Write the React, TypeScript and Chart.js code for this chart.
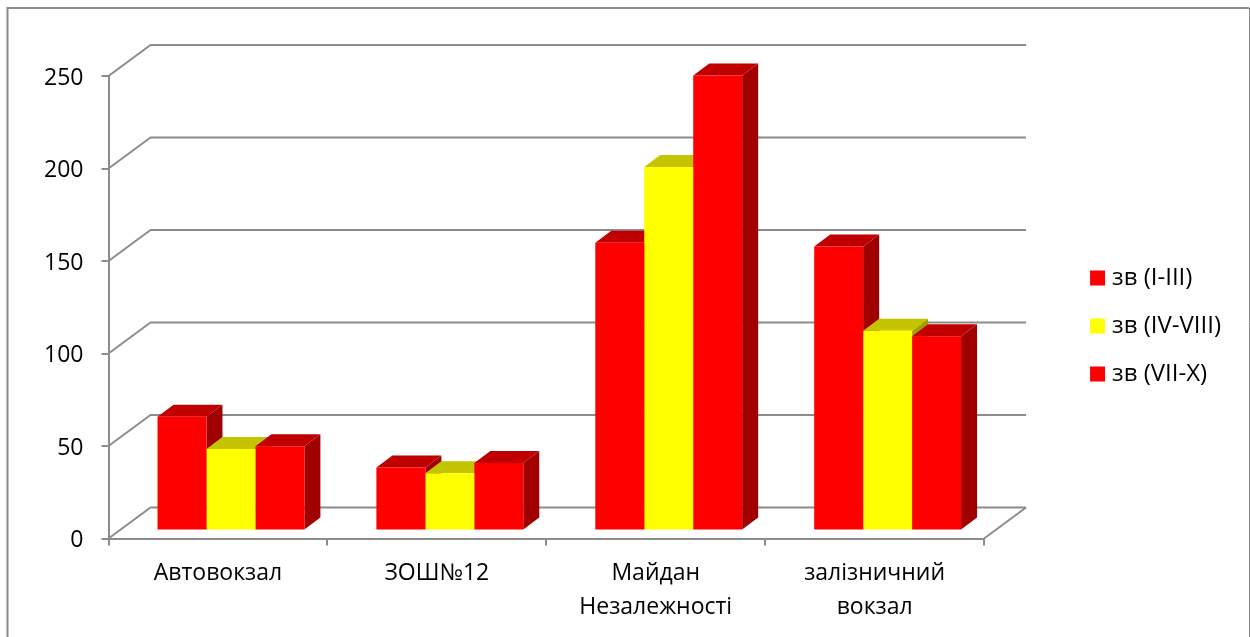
import { useEffect, useRef } from "react";
import { Chart, registerables, type Plugin } from "chart.js";

Chart.register(...registerables);

const categories: (string | string[])[] = [
  "Автовокзал",
  "ЗОШ№12",
  ["Майдан", "Незалежності"],
  ["залізничний", "вокзал"],
];
const seriesNames = ["зв (I-III)", "зв (IV-VIII)", "зв (VII-X)"];
const firstGrades = [61.5, 34, 155.5, 153.5];
const middleGrades = [44, 31, 196.5, 108];
const seniorGrades = [45.5, 36.5, 246, 105];

const frontColors = ["#ff0000", "#ffff00", "#ff0000"];
const topColors = ["#c00000", "#c4c400", "#c00000"];
const sideColors = ["#a00000", "#a0a000", "#a00000"];

const AXIS_COLOR = "#8c8c8c";
const FONT = '"Open Sans", sans-serif';
const FONT_SIZE = 23;

// Depth of the floor and of the bars, as screen offsets.
const WALL = { dx: 42, dy: -31 };
const BAR_FRONT = { dx: 13, dy: -8 };
const BAR_BACK = { dx: 29, dy: -20 };

function polygon(ctx: CanvasRenderingContext2D, pts: number[][], fill: string) {
  ctx.beginPath();
  pts.forEach(([x, y], i) => (i ? ctx.lineTo(x, y) : ctx.moveTo(x, y)));
  ctx.closePath();
  ctx.fillStyle = fill;
  ctx.fill();
}

// Outer frame, walls and floor, plus the top and side faces of each bar.
const perspective: Plugin<"bar"> = {
  id: "perspective",
  beforeDraw(chart) {
    const { ctx, width, height } = chart;
    ctx.save();
    ctx.strokeStyle = "#8a8a8a";
    ctx.lineWidth = 2;
    ctx.beginPath();
    ctx.moveTo(7.5, height);
    ctx.lineTo(7.5, 8);
    ctx.lineTo(width - 1, 8);
    ctx.stroke();
    ctx.lineWidth = 1;
    ctx.beginPath();
    ctx.moveTo(width - 0.5, 8);
    ctx.lineTo(width - 0.5, height);
    ctx.stroke();
    ctx.restore();
  },
  beforeDatasetsDraw(chart) {
    const { ctx, chartArea } = chart;
    const y = chart.scales.y;
    ctx.save();
    ctx.strokeStyle = AXIS_COLOR;
    ctx.lineWidth = 2;
    ctx.lineJoin = "round";
    for (const tick of y.ticks) {
      const py = y.getPixelForValue(tick.value);
      ctx.beginPath();
      ctx.moveTo(chartArea.left, py);
      ctx.lineTo(chartArea.left + WALL.dx, py + WALL.dy);
      ctx.lineTo(chartArea.right + WALL.dx, py + WALL.dy);
      ctx.stroke();
    }
    ctx.beginPath();
    ctx.moveTo(chartArea.right, chartArea.bottom);
    ctx.lineTo(chartArea.right + WALL.dx, chartArea.bottom + WALL.dy);
    ctx.stroke();

    // Left to right, so that a later bar's top covers its neighbour's side.
    categories.forEach((_, c) => {
      chart.data.datasets.forEach((_ds, d) => {
        const bar = chart.getDatasetMeta(d).data[c] as any;
        const { x, y: top, base, width } = bar.getProps(["x", "y", "base", "width"], true);
        const l = x - width / 2;
        const r = x + width / 2;
        const f = BAR_FRONT;
        const b = BAR_BACK;
        polygon(ctx, [
          [r + f.dx, top + f.dy],
          [r + b.dx, top + b.dy],
          [r + b.dx, base + b.dy],
          [r + f.dx, base + f.dy],
        ], sideColors[d]);
        polygon(ctx, [
          [l + f.dx, top + f.dy],
          [l + b.dx, top + b.dy],
          [r + b.dx, top + b.dy],
          [r + f.dx, top + f.dy],
        ], topColors[d]);
      });
    });
    ctx.restore();

    // The front faces stand slightly inside the floor.
    ctx.save();
    ctx.translate(BAR_FRONT.dx, BAR_FRONT.dy);
  },
  afterDatasetsDraw(chart) {
    chart.ctx.restore();
  },
};

export default function App() {
  const ref = useRef<HTMLCanvasElement>(null);

  useEffect(() => {
    const chart = new Chart(ref.current!, {
      type: "bar",
      plugins: [perspective],
      data: {
        labels: categories as any,
        datasets: [firstGrades, middleGrades, seniorGrades].map((data, i) => ({
          label: seriesNames[i],
          data,
          backgroundColor: frontColors[i],
          categoryPercentage: 0.671,
          barPercentage: 1,
          clip: false as any,
        })),
      },
      options: {
        animation: false,
        responsive: false,
        layout: { padding: { top: 15, bottom: 0, left: 0, right: 19 } },
        scales: {
          x: {
            grid: { drawOnChartArea: false, color: AXIS_COLOR, tickLength: 7, lineWidth: 2, offset: true },
            border: { color: AXIS_COLOR, width: 2 },
            ticks: {
              color: "#000",
              font: { family: FONT, size: FONT_SIZE, lineHeight: 34 / FONT_SIZE },
              padding: 11,
              maxRotation: 0,
              autoSkip: false,
            },
            afterFit: (s: any) => { s.height = 98.5; },
          },
          y: {
            min: 0,
            max: 250,
            grid: { drawOnChartArea: false, color: AXIS_COLOR, tickLength: 7, lineWidth: 2 },
            border: { color: AXIS_COLOR, width: 2 },
            ticks: {
              stepSize: 50,
              color: "#000",
              font: { family: FONT, size: FONT_SIZE },
              padding: 18,
              labelOffset: 2,
            },
            afterFit: (s: any) => { s.width = 108.5; },
          },
          // Empty axes that reserve the space above the plot and beside the legend.
          headGap: {
            axis: "x",
            position: "top",
            display: true,
            ticks: { display: false },
            grid: { display: false },
            border: { display: false },
            afterFit: (s: any) => { s.height = 61; },
          } as any,
          legendGap: {
            axis: "y",
            position: "right",
            display: true,
            ticks: { display: false },
            grid: { display: false },
            border: { display: false },
            afterFit: (s: any) => { s.width = 87; },
          } as any,
        },
        plugins: {
          title: { display: false },
          tooltip: { enabled: false },
          legend: {
            position: "right",
            labels: {
              usePointStyle: true,
              pointStyle: "rect",
              boxWidth: 5,
              boxHeight: 15,
              padding: 24,
              color: "#000",
              font: { family: FONT, size: 24 },
            },
          },
        },
      },
    });
    return () => chart.destroy();
  }, []);

  return (
    <canvas
      ref={ref}
      width={1250}
      height={637}
      style={{ position: "absolute", left: 0, top: 0, background: "#fff" }}
    />
  );
}
